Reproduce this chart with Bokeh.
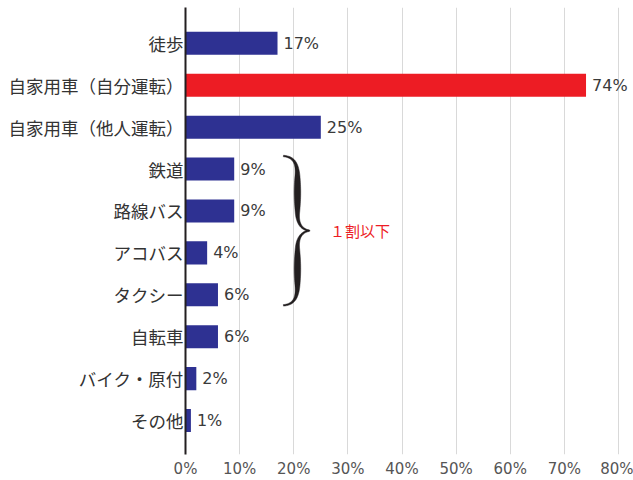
import numpy as np
from bokeh.plotting import figure
from bokeh.models import ColumnDataSource, Range1d, FixedTicker
from bokeh.core.properties import value
from bokeh.embed import file_html
from bokeh.resources import INLINE

categories = ["徒歩", "自家用車（自分運転）", "自家用車（他人運転）", "鉄道", "路線バス",
              "アコバス", "タクシー", "自転車", "バイク・原付", "その他"]
values = [17, 74, 25, 9, 9, 4, 6, 6, 2, 1]
highlight = "自家用車（自分運転）"
x_ticks = [0, 10, 20, 30, 40, 50, 60, 70, 80]
x_tick_labels = ["0%", "10%", "20%", "30%", "40%", "50%", "60%", "70%", "80%"]
brace_from, brace_to = "鉄道", "タクシー"
brace_note = "１割以下"

NAVY = "#2e3192"
RED = "#ed1c24"
JP = "Noto Sans CJK JP"
NUM = "DejaVu Sans"

n = len(categories)
ypos = list(range(n))
colors = [RED if c == highlight else NAVY for c in categories]
src = ColumnDataSource(dict(y=ypos, v=values, c=colors,
                            lab=[f"{v}%" for v in values]))

p = figure(width=633, height=480, output_backend="svg", toolbar_location=None,
           x_range=Range1d(0, 80 * 448 / 433), y_range=Range1d(9.81, -0.855),
           min_border_left=185, min_border_right=0, min_border_top=7,
           min_border_bottom=24)
p.outline_line_color = None
p.background_fill_color = "white"

p.hbar(y="y", left=0, right="v", height=0.55, fill_color="c", line_color=None, source=src)
p.text(x="v", y="y", text="lab", source=src, x_offset=6, text_align="left",
       text_baseline="middle", text_font=value(NUM), text_font_size="16px",
       text_color="#3a3a3a")

# curly brace annotation
def bez(p0, p1, p2, p3, m=40):
    t = np.linspace(0, 1, m)[:, None]
    p0, p1, p2, p3 = map(np.array, (p0, p1, p2, p3))
    return (1 - t) ** 3 * p0 + 3 * (1 - t) ** 2 * t * p1 + 3 * (1 - t) * t ** 2 * p2 + t ** 3 * p3

s1 = bez((-26, -75), (-15, -74), (-12, -67), (-12, -54))
s2 = np.column_stack([np.full(20, -12.0), np.linspace(-54, -18, 20)])
s3 = bez((-12, -18), (-12, -6), (-7, -1), (0, 0))
upper = np.vstack([s1, s2[1:], s3[1:]])
lower = upper[::-1].copy()
lower[:, 1] *= -1
path = np.vstack([upper, lower[1:]])
d = np.gradient(path, axis=0)
nrm = np.column_stack([-d[:, 1], d[:, 0]])
nrm /= np.linalg.norm(nrm, axis=1)[:, None]
seg = np.linalg.norm(np.diff(path, axis=0), axis=1)
s = np.concatenate([[0], np.cumsum(seg)]) / seg.sum()
w = 1.5 + 5.0 * np.sin(2 * np.pi * s) ** 2
left = path + nrm * (w / 2)[:, None]
right = path - nrm * (w / 2)[:, None]
poly = np.vstack([left, right[::-1]])
i0, i1 = categories.index(brace_from), categories.index(brace_to)
tip_x, tip_y = 22.9, (i0 + i1) / 2 - 0.03
px_x, px_y = 5.41, 42.1
p.patch(tip_x + poly[:, 0] / px_x, tip_y + poly[:, 1] / px_y,
        fill_color="#231f20", line_color="#231f20", line_width=0.5)
p.text(x=[26.7], y=[tip_y], text=[brace_note], text_align="left", text_baseline="middle",
       text_font=value(JP), text_font_size="15px", text_color=RED)

p.xaxis.ticker = FixedTicker(ticks=x_ticks)
p.xaxis.major_label_overrides = dict(zip(x_ticks, x_tick_labels))
p.xaxis.axis_line_color = None
p.xaxis.major_tick_line_color = None
p.xaxis.minor_tick_line_color = None
p.xaxis.major_tick_out = 0
p.xaxis.minor_tick_out = 0
p.xaxis.major_label_text_font = NUM
p.xaxis.major_label_text_font_size = "15px"
p.xaxis.major_label_text_color = "#555555"
p.xaxis.major_label_standoff = 5

p.yaxis.ticker = FixedTicker(ticks=ypos)
p.yaxis.major_label_overrides = dict(zip(ypos, categories))
p.yaxis.axis_line_color = "#231f20"
p.yaxis.axis_line_width = 2
p.yaxis.major_tick_line_color = None
p.yaxis.minor_tick_line_color = None
p.yaxis.major_tick_out = 0
p.yaxis.minor_tick_out = 0
p.yaxis.major_label_text_font = JP
p.yaxis.major_label_text_font_size = "17.5px"
p.yaxis.major_label_text_color = "#333333"
p.yaxis.major_label_standoff = 2

p.xgrid.ticker = FixedTicker(ticks=x_ticks)
p.xgrid.grid_line_color = "#d9d9d9"
p.ygrid.grid_line_color = None

open("out.html", "w").write(file_html(p, INLINE))
